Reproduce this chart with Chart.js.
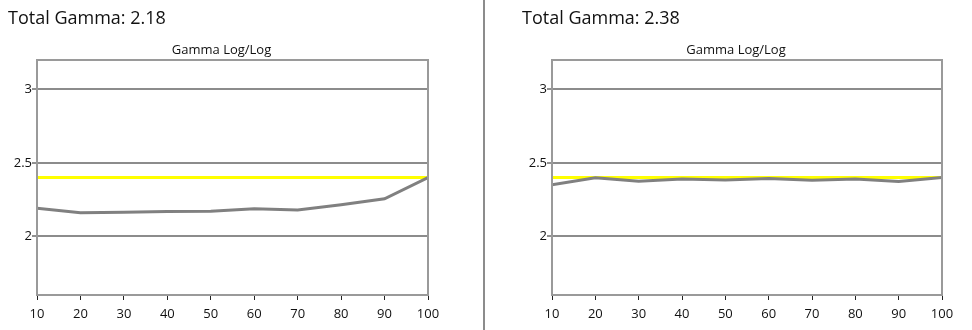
<!DOCTYPE html>
<html>
<head>
<meta charset="utf-8">
<script src="https://cdn.jsdelivr.net/npm/chart.js@4/dist/chart.umd.min.js"></script>
<style>
  html, body { margin: 0; padding: 0; background: #fff; }
  .wrap { position: relative; width: 972px; height: 330px; overflow: hidden; }
  .panel { position: absolute; top: 0; width: 486px; height: 330px; }
  .panel canvas { position: absolute; left: 0; top: 0; }
  .heading { position: absolute; top: 5px; font-family: "Open Sans", sans-serif; font-size: 18px; color: #111; white-space: nowrap; }
  .divider { position: absolute; left: 483px; top: 0; width: 2px; height: 330px; background: #8c8c8c; }
</style>
</head>
<body>
<div class="wrap">
  <div class="panel" style="left:0">
    <canvas id="gamma-left" width="486" height="330"></canvas>
    <div class="heading" style="left:8px">Total Gamma: 2.18</div>
  </div>
  <div class="divider"></div>
  <div class="panel" style="left:486px">
    <canvas id="gamma-right" width="486" height="330"></canvas>
    <div class="heading" style="left:36px">Total Gamma: 2.38</div>
  </div>
</div>
<script>
// --- DATA ---
const levels = [10, 20, 30, 40, 50, 60, 70, 80, 90, 100];      // stimulus %
const yTicks = [2, 2.5, 3];
const targetGamma = [2.4, 2.4, 2.4, 2.4, 2.4, 2.4, 2.4, 2.4, 2.4, 2.4];
const gammaBefore = [2.19, 2.16, 2.164, 2.169, 2.17, 2.187, 2.178, 2.214, 2.255, 2.40];
const gammaAfter = [2.35, 2.399, 2.374, 2.39, 2.383, 2.394, 2.381, 2.39, 2.372, 2.40];
const subTitle = "Gamma Log/Log";

const FONT = "'Open Sans', sans-serif";

// frame around the plot area plus the small heading above it
const framePlugin = {
  id: "frame",
  afterDraw(chart) {
    const { ctx, chartArea: a } = chart;
    ctx.save();
    ctx.strokeStyle = "#9a9a9a";
    ctx.lineWidth = 2;
    ctx.strokeRect(a.left, a.top, a.right - a.left, a.bottom - a.top);
    ctx.fillStyle = "#111";
    ctx.font = "13px " + FONT;
    ctx.textAlign = "center";
    ctx.textBaseline = "middle";
    // heading sits a little left of the plot centre
    ctx.fillText(subTitle, (a.left + a.right) / 2 - 11, a.top - 10);
    ctx.restore();
  }
};

function toPoints(values) {
  return values.map((v, i) => ({ x: levels[i], y: v }));
}

function createGammaChart(canvas, values, leftEdge, rightEdge) {
  return new Chart(canvas.getContext("2d"), {
    type: "line",
    data: {
      datasets: [
        { data: toPoints(values), borderColor: "#808080", borderWidth: 3, pointRadius: 0, tension: 0 },
        { data: toPoints(targetGamma), borderColor: "#ffff00", borderWidth: 3, pointRadius: 0, tension: 0 }
      ]
    },
    options: {
      responsive: false,
      animation: false,
      layout: { padding: { left: leftEdge - 32, top: 60, right: 486 - rightEdge, bottom: 0 } },
      plugins: { legend: { display: false }, tooltip: { enabled: false } },
      scales: {
        x: {
          type: "linear",
          min: levels[0],
          max: levels[levels.length - 1],
          afterBuildTicks: s => { s.ticks = levels.map(v => ({ value: v })); },
          afterFit: s => { s.height = 35; },
          border: { display: false },
          grid: { drawOnChartArea: false, tickLength: 5, tickColor: "#222", tickWidth: 1 },
          ticks: { color: "#111", padding: 6, maxRotation: 0, font: { family: FONT, size: 13 }, callback: v => String(v) }
        },
        y: {
          min: 1.6,
          max: 3.2,
          afterBuildTicks: s => { s.ticks = yTicks.map(v => ({ value: v })); },
          afterFit: s => { s.width = 32; },
          border: { display: false },
          grid: { color: "#8c8c8c", lineWidth: 2, tickLength: 5, tickColor: "#222", tickWidth: 1 },
          ticks: { color: "#111", padding: 0, font: { family: FONT, size: 13 }, callback: v => String(v) }
        }
      }
    },
    plugins: [framePlugin]
  });
}

document.fonts.load("13px 'Open Sans'").then(() => {
  createGammaChart(document.getElementById("gamma-left"), gammaBefore, 37, 428);
  createGammaChart(document.getElementById("gamma-right"), gammaAfter, 66, 456);
});
</script>
</body>
</html>
